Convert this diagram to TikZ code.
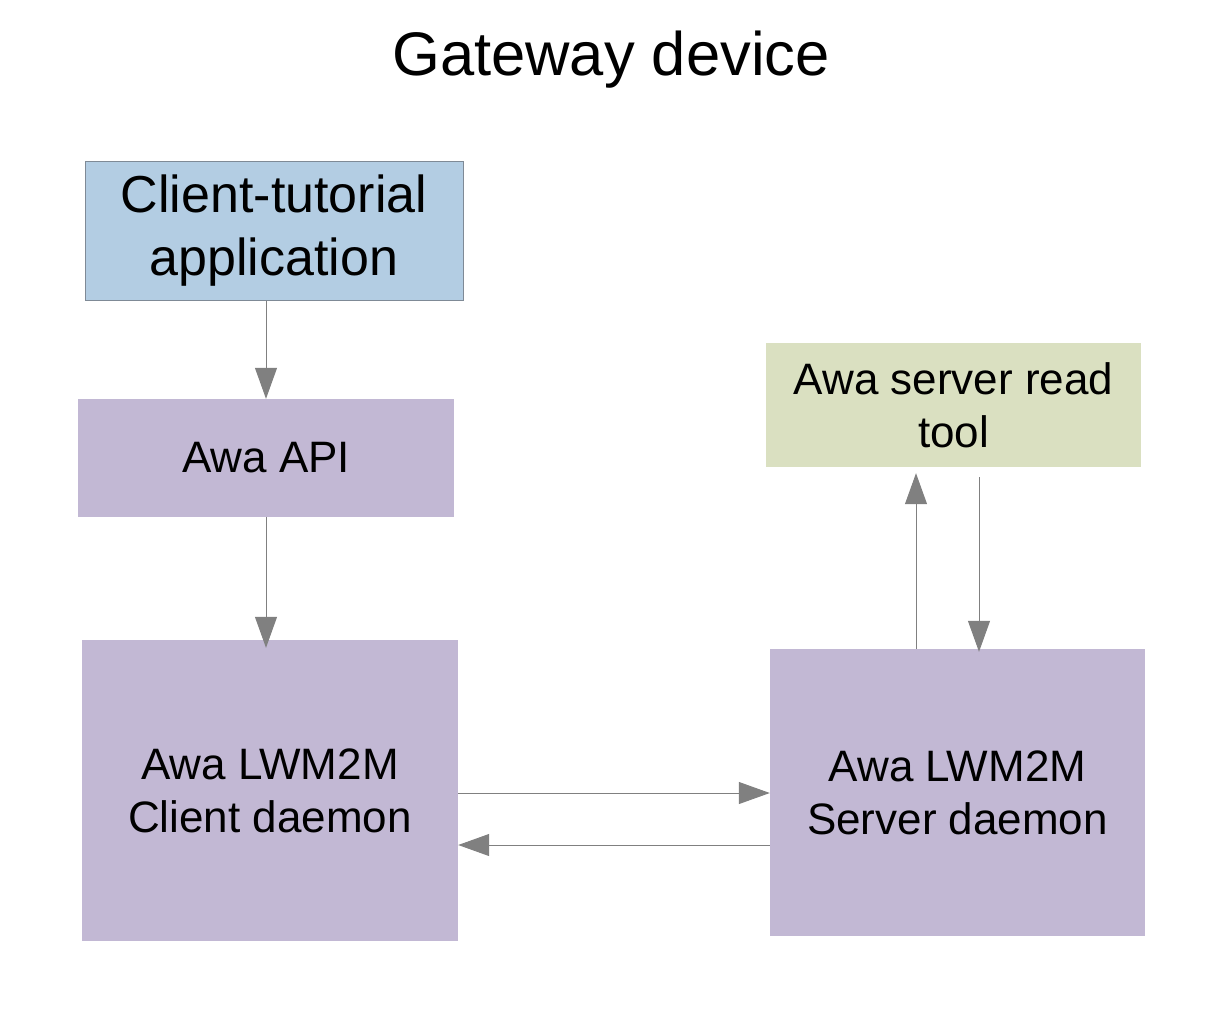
\documentclass[tikz,border=0pt]{standalone}
\usepackage{fontspec}
\setmainfont{Liberation Sans}
\usepackage{xcolor}
\usepackage{tikz}
\usetikzlibrary{calc,arrows.meta}
\definecolor{appblue}{HTML}{B3CDE3}
\definecolor{appline}{HTML}{7F8A96}
\definecolor{awapurple}{HTML}{C2B8D4}
\definecolor{toolgreen}{HTML}{DAE0C1}
\definecolor{linkgray}{HTML}{808080}
\tikzset{
  box/.style={inner sep=0pt, align=center, text=black, font=\fontsize{44}{53}\selectfont},
  appbox/.style={box, fill=appblue, draw=appline, line width=1pt, font=\fontsize{52}{63}\selectfont},
  awabox/.style={box, fill=awapurple},
  toolbox/.style={box, fill=toolgreen},
  link/.style={draw=linkgray, line width=1pt, -{Triangle[length=31pt,width=22pt]}},
  heading/.style={text=black, font=\fontsize{61.5}{74}\selectfont, inner sep=0pt},
}
\begin{document}
\begin{tikzpicture}[x=1pt,y=-1pt]
  \useasboundingbox (0,0) rectangle (1223,1013);
  \node[heading,anchor=base] (title) at (611,75) {Gateway device};
  \node[appbox,minimum width=378pt,minimum height=139pt] (app) at (274,230.5) {Client-tutorial\\application};
  \node[awabox,minimum width=376pt,minimum height=118pt] (api) at (266,458) {Awa API};
  \node[awabox,minimum width=376pt,minimum height=301pt] (client) at (270,790.5) {Awa LWM2M\\Client daemon};
  \node[awabox,minimum width=375pt,minimum height=287pt] (server) at (957.5,792.5) {Awa LWM2M\\Server daemon};
  \node[toolbox,minimum width=375pt,minimum height=124pt] (tool) at (953.5,405) {Awa server read\\tool};
  % client side
  \draw[link] (app.south -| api.north) -- (api.north);
  \draw[link] (api.south) -- ([yshift=-8pt]api.south |- client.north);
  % between the daemons
  \draw[link] ([yshift=-2.5pt]client.east) -- ([yshift=-2.5pt]client.east -| server.west);
  \draw[link] ([yshift=-52.5pt]server.west) -- ([yshift=-52.5pt]server.west -| client.east);
  % read tool
  \draw[link] ([xshift=-41.5pt]server.north) -- ([xshift=-41.5pt,yshift=-6pt]server.north |- tool.south);
  \draw[link] ([xshift=21.5pt,yshift=-10pt]server.north |- tool.south) -- ([xshift=21.5pt,yshift=-3pt]server.north);
\end{tikzpicture}
\end{document}
